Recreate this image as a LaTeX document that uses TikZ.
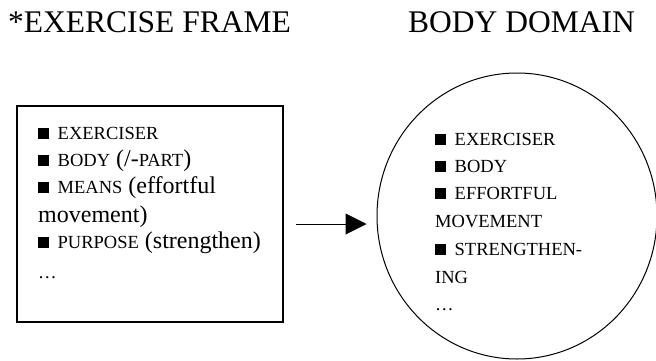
\documentclass[tikz,border=0pt]{standalone}
\usepackage{fontspec}
\setmainfont{Liberation Serif}
\usetikzlibrary{shapes.geometric,arrows.meta}

\newcommand{\caps}[1]{{\fontsize{18.5}{22}\selectfont #1}}
\newcommand{\blacksq}{\rule{11pt}{11pt}\hspace{8.5pt}}

\begin{document}
\begin{tikzpicture}[x=1pt,y=1pt]

    \def\fs{24}
    \def\tfs{31.5}
    \tikzset{
        title/.style = {anchor=base west, inner sep=0, font=\fontsize{\tfs}{36}\selectfont},
        line/.style = {anchor=base west, inner sep=0, font=\fontsize{\fs}{27}\selectfont}
    }

    \useasboundingbox (0,0) rectangle (656,360);

    \node [title] (t1) at (8,328) {*EXERCISE FRAME};
    \node [title] (t2) at (408,328) {BODY DOMAIN};

    \node [draw, line width=1.3pt, minimum width=266pt, minimum height=216pt, inner sep=0] (frame) at (150,146) {};
    \node [draw, ellipse, line width=1pt, minimum width=280pt, minimum height=286pt, inner sep=0] (domain) at (517,144) {};

    \node [line] (f1) at (38,221) {\blacksq\caps{EXERCISER}};
    \node [line] (f2) at (38,194) {\blacksq\caps{BODY} (/-\caps{PART})};
    \node [line] (f3) at (38,167) {\blacksq\caps{MEANS} (effortful};
    \node [line] (f4) at (38,138) {movement)};
    \node [line] (f5) at (38,112) {\blacksq\caps{PURPOSE} (strengthen)};
    \node [line] (f6) at (38,82) {\caps{…}};

    \node [line] (d1) at (435,215) {\blacksq\caps{EXERCISER}};
    \node [line] (d2) at (435,188) {\blacksq\caps{BODY}};
    \node [line] (d3) at (435,161) {\blacksq\caps{EFFORTFUL}};
    \node [line] (d4) at (435,133) {\caps{MOVEMENT}};
    \node [line] (d5) at (435,105) {\blacksq\caps{STRENGTHEN-}};
    \node [line] (d6) at (435,77) {\caps{ING}};
    \node [line] (d7) at (435,50) {\caps{…}};

    \draw[line width=1pt, -{Triangle[length=21pt,width=21pt]}] ([xshift=12pt,yshift=-10pt]frame.east) -- ([xshift=-10pt,yshift=-8pt]domain.west);

\end{tikzpicture}
\end{document}
